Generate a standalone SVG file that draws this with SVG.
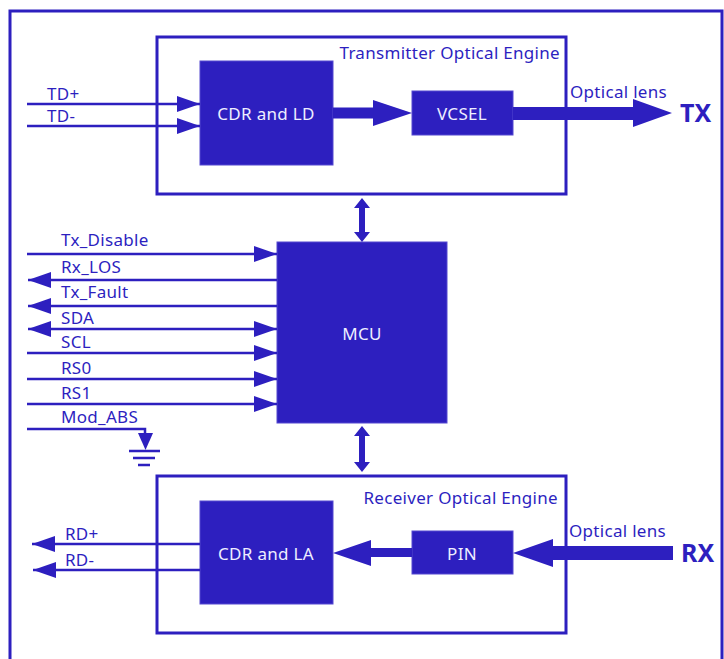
<svg xmlns="http://www.w3.org/2000/svg" width="724" height="659" viewBox="0 0 724 659">
<defs>
<style>
.frame{fill:none;stroke:#2d1fbf;stroke-width:3}
.blk{fill:#2d1fbf;stroke:#5548d0;stroke-width:1}
.wt{fill:#eeeeff;font-family:"Noto Sans","Open Sans",sans-serif;font-size:17px;letter-spacing:0.3px;text-anchor:middle}
.lbl{fill:#2d1fbf;font-family:"Noto Sans","Open Sans",sans-serif;font-size:17px;letter-spacing:0.3px}
.big{fill:#2d1fbf;font-family:"Noto Sans","Open Sans",sans-serif;font-size:25px;font-weight:bold}
.sig{fill:none;stroke:#2d1fbf;stroke-width:2.5}
.thick{fill:#2d1fbf;stroke:none}
</style>
<marker id="ah" markerUnits="userSpaceOnUse" markerWidth="24" markerHeight="16" refX="23" refY="8" orient="auto-start-reverse">
<path d="M0,0 L23,8 L0,16 z" fill="#2d1fbf"/>
</marker>
</defs>
<rect width="724" height="659" fill="#ffffff"/>
<path class="frame" d="M10,659 V11 H722 V659"/>

<g id="tx-engine">
<rect class="frame" x="157" y="37" width="409" height="157"/>
<text class="lbl" x="560" y="59" text-anchor="end">Transmitter Optical Engine</text>
</g>
<g id="cdr-ld">
<rect class="blk" x="200" y="61" width="133" height="104"/>
<text class="wt" x="266" y="120">CDR and LD</text>
</g>
<g id="vcsel">
<rect class="blk" x="412" y="91" width="101" height="44"/>
<text class="wt" x="462" y="120">VCSEL</text>
</g>
<g id="mcu">
<rect class="blk" x="277" y="242" width="170" height="181"/>
<text class="wt" x="362" y="340">MCU</text>
</g>
<g id="rx-engine">
<rect class="frame" x="157" y="476" width="409" height="157"/>
<text class="lbl" x="558" y="504" text-anchor="end">Receiver Optical Engine</text>
</g>
<g id="cdr-la">
<rect class="blk" x="200" y="501" width="133" height="103"/>
<text class="wt" x="266" y="560">CDR and LA</text>
</g>
<g id="pin">
<rect class="blk" x="412" y="531" width="101" height="43"/>
<text class="wt" x="462" y="560">PIN</text>
</g>
<g id="tx-port">
<text class="lbl" x="570" y="98">Optical lens</text>
<text class="big" x="680" y="122">TX</text>
</g>
<g id="rx-port">
<text class="lbl" x="569" y="537">Optical lens</text>
<text class="big" x="681" y="562">RX</text>
</g>
<g id="ground">
<path class="sig" d="M27,429 H145 V436"/>
<path class="thick" d="M138,433 L153,433 L145.5,450 z"/>
<path class="sig" d="M129,451 H160 M133,458 H155 M138,465 H150"/>
</g>

<g id="connectors">
<path class="sig" d="M27,104 H200" marker-end="url(#ah)"/>
<path class="sig" d="M27,126 H200" marker-end="url(#ah)"/>
<text class="lbl" x="47" y="100">TD+</text>
<text class="lbl" x="47" y="122">TD-</text>

<path class="thick" d="M333,107.5 H373 V100 L412,113 L373,126 V118.5 H333 z"/>
<path class="thick" d="M513,107 H633 V99 L672,113 L633,127 V120 H513 z"/>

<path class="sig" d="M27,254 H277" marker-end="url(#ah)"/>
<path class="sig" d="M277,280 H28" marker-end="url(#ah)"/>
<path class="sig" d="M277,306 H28" marker-end="url(#ah)"/>
<path class="sig" d="M28,329 H277" marker-start="url(#ah)" marker-end="url(#ah)"/>
<path class="sig" d="M27,353 H277" marker-end="url(#ah)"/>
<path class="sig" d="M27,379 H277" marker-end="url(#ah)"/>
<path class="sig" d="M27,404 H277" marker-end="url(#ah)"/>
<text class="lbl" x="61" y="246">Tx_Disable</text>
<text class="lbl" x="61" y="273">Rx_LOS</text>
<text class="lbl" x="61" y="298">Tx_Fault</text>
<text class="lbl" x="61" y="324">SDA</text>
<text class="lbl" x="61" y="348">SCL</text>
<text class="lbl" x="61" y="374">RS0</text>
<text class="lbl" x="61" y="399">RS1</text>
<text class="lbl" x="61" y="423">Mod_ABS</text>

<path class="thick" d="M362,198 L370,208 H365 V232 H370 L362,242 L354,232 H359 V208 H354 z"/>
<path class="thick" d="M362,426 L370,436 H365 V462 H370 L362,472 L354,462 H359 V436 H354 z"/>

<path class="sig" d="M200,544 H32" marker-end="url(#ah)"/>
<path class="sig" d="M200,570 H33" marker-end="url(#ah)"/>
<text class="lbl" x="65" y="540">RD+</text>
<text class="lbl" x="65" y="566">RD-</text>

<path class="thick" d="M412,548 H371 V540 L333,553 L371,566 V557 H412 z"/>
<path class="thick" d="M673,546 H553 V539 L513,553 L553,567 V560 H673 z"/>
</g>
</svg>
